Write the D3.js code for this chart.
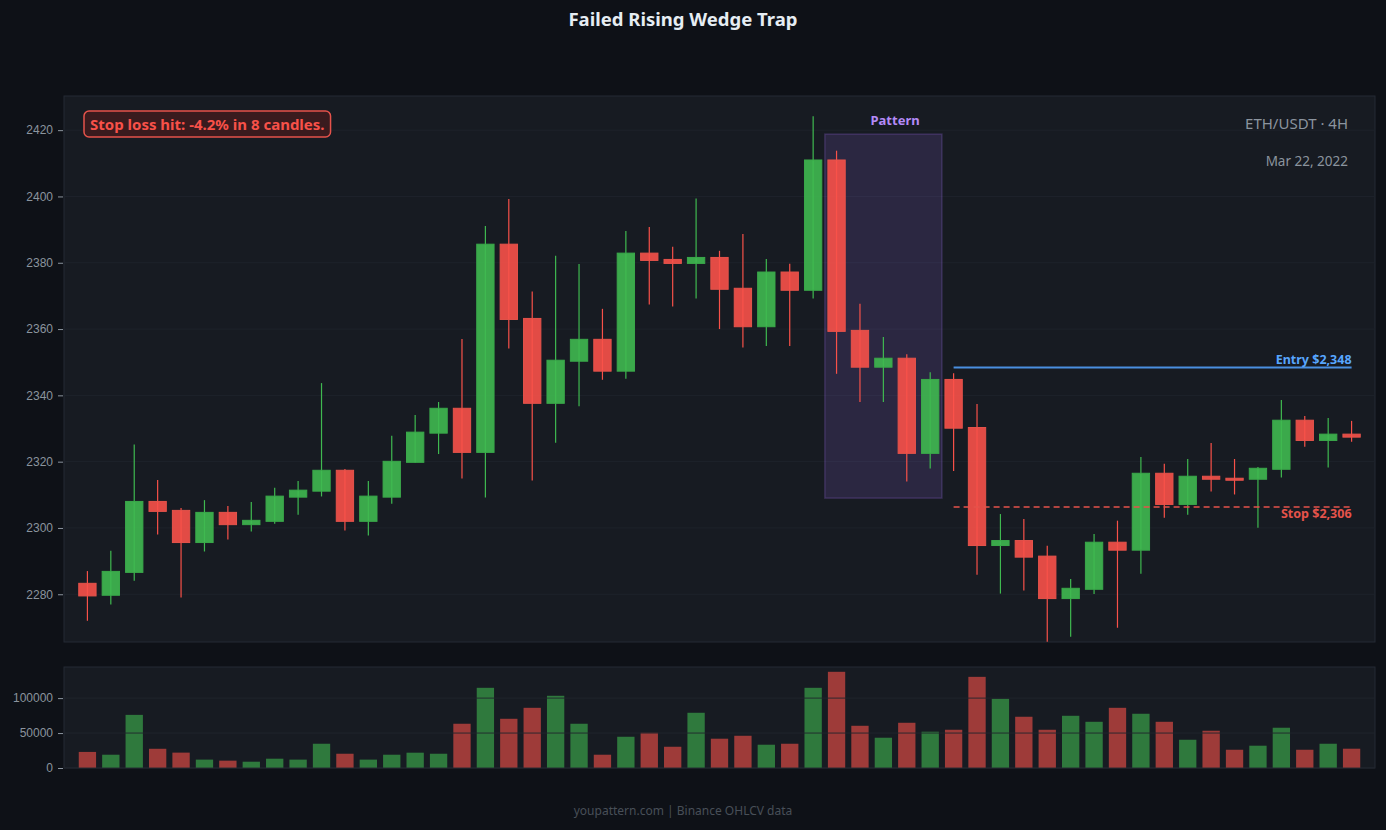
<!DOCTYPE html>
<html>
<head>
<meta charset="utf-8">
<script src="https://cdn.jsdelivr.net/npm/d3@7"></script>
<style>
  body { margin: 0; background: #0e1117; }
  svg { display: block; font-family: "Noto Sans", "Open Sans", sans-serif; }
</style>
</head>
<body>
<div id="chart"></div>
<script>
// ETH/USDT 4H candles
var opens  = [2283.3,2279.7,2286.6,2308.0,2305.3,2295.6,2304.7,2301.0,2302.0,2309.3,2311.1,2317.4,2302.0,2309.3,2319.8,2328.6,2336.1,2322.8,2385.6,2363.2,2337.6,2350.3,2356.9,2347.3,2382.9,2381.0,2379.8,2381.6,2372.3,2360.7,2377.2,2371.7,2411.0,2359.6,2348.5,2351.2,2322.5,2344.8,2330.3,2294.7,2296.2,2291.5,2278.7,2281.5,2295.7,2293.3,2316.5,2307.1,2315.6,2315.0,2314.7,2317.7,2332.5,2326.4,2328.3];
var highs  = [2287.0,2293.1,2325.2,2314.5,2306.0,2308.4,2306.6,2307.8,2312.1,2314.2,2343.7,2317.8,2314.2,2327.8,2334.1,2338.0,2357.0,2391.1,2399.2,2371.3,2382.1,2379.6,2366.1,2389.6,2390.8,2384.8,2399.4,2383.6,2388.7,2381.1,2379.7,2424.2,2413.8,2367.6,2357.6,2352.4,2347.0,2346.7,2337.4,2304.2,2302.7,2294.6,2284.6,2298.2,2302.2,2321.4,2319.4,2320.8,2325.6,2320.8,2318.4,2338.6,2333.8,2333.2,2332.3];
var lows   = [2272.0,2276.9,2284.1,2298.0,2279.0,2292.9,2296.5,2298.9,2301.3,2304.0,2309.5,2299.2,2297.7,2307.3,2319.7,2322.3,2314.9,2309.2,2354.1,2314.3,2325.7,2336.7,2344.7,2345.0,2367.4,2366.8,2369.2,2360.0,2354.4,2354.9,2354.9,2369.2,2346.5,2338.0,2338.0,2314.0,2317.9,2317.2,2285.9,2280.2,2281.1,2265.7,2267.2,2280.1,2269.9,2286.2,2303.1,2304.0,2311.0,2310.1,2300.1,2315.2,2324.5,2318.2,2326.0];
var closes = [2279.5,2286.9,2308.0,2305.0,2295.6,2304.7,2301.0,2302.3,2309.6,2311.4,2317.4,2302.0,2309.6,2320.1,2328.9,2336.1,2322.8,2385.6,2362.9,2337.6,2350.6,2356.9,2347.3,2382.9,2380.7,2379.8,2381.6,2372.0,2360.7,2377.2,2371.7,2411.0,2359.3,2348.5,2351.2,2322.5,2344.8,2330.1,2294.7,2296.2,2291.2,2278.7,2281.8,2295.7,2293.3,2316.5,2307.1,2315.6,2314.7,2314.6,2318.0,2332.5,2326.4,2328.3,2327.4];
var volumes = [23000,19000,76000,27500,22000,12000,10500,9000,13300,12000,34700,20400,12000,19000,21900,20400,63300,114700,70400,86100,103300,63300,19000,44700,50400,30400,79000,41900,46100,33300,34700,114700,137600,60400,43300,64700,51900,54700,130400,99000,73300,54700,74700,66100,86100,77600,66100,40400,53300,26100,31900,57600,26100,34700,27600];

var priceTicks = [2280, 2300, 2320, 2340, 2360, 2380, 2400, 2420];
var volumeTicks = [0, 50000, 100000];

// pattern (candle index range) and trade levels
var patternStart = 32, patternEnd = 36;
var entryIndex = 37;
var entryPrice = 2348.4, stopPrice = 2306.3;

var candles = opens.map(function(o, i) {
  return {i: i, o: o, h: highs[i], l: lows[i], c: closes[i], v: volumes[i]};
});

var W = 1386, H = 830, cx = 683;
var plot = {left: 64, right: 1375, top: 96, bottom: 642};
var vol = {top: 667, bottom: 768};

var up = "#3fb950", down = "#f85149";
var panelFill = "#171b22", panelStroke = "#252b34", gridColor = "#1e232b", axisText = "#8b949e";

var svg = d3.select("#chart").append("svg")
  .attr("width", W).attr("height", H);

svg.append("rect").attr("width", W).attr("height", H).attr("fill", "#0e1117");

var x = d3.scaleBand()
  .domain(d3.range(candles.length))
  .range([plot.left, plot.right])
  .paddingInner(0.26)
  .paddingOuter(0.63);

var y = d3.scaleLinear()
  .domain([2265.6, 2430.3])
  .range([plot.bottom, plot.top]);

var yv = d3.scaleLinear()
  .domain([0, d3.max(volumes) * 1.05])
  .range([vol.bottom, vol.top]);

// panels
svg.append("rect")
  .attr("x", plot.left).attr("y", plot.top)
  .attr("width", plot.right - plot.left).attr("height", plot.bottom - plot.top)
  .attr("fill", panelFill).attr("stroke", panelStroke);
svg.append("rect")
  .attr("x", plot.left).attr("y", vol.top)
  .attr("width", plot.right - plot.left).attr("height", vol.bottom - vol.top)
  .attr("fill", panelFill).attr("stroke", panelStroke);

// price grid
svg.append("g").selectAll("line").data(priceTicks).join("line")
  .attr("x1", plot.left).attr("x2", plot.right)
  .attr("y1", function(d) { return y(d); }).attr("y2", function(d) { return y(d); })
  .attr("stroke", gridColor);

// price axis
var yAxis = svg.append("g")
  .attr("transform", "translate(" + (plot.left - 1) + ",0)")
  .call(d3.axisLeft(y).tickValues(priceTicks).tickFormat(d3.format("d")).tickSize(5).tickPadding(5));
yAxis.select(".domain").remove();
yAxis.selectAll("line").attr("stroke", axisText);
yAxis.selectAll("text").attr("fill", axisText).style("font-size", "12px");

// pattern box
var boxTop = y(d3.max(highs.slice(patternStart, patternEnd + 1)) + 5);
var boxBottom = y(d3.min(lows.slice(patternStart, patternEnd + 1)) - 5);
var boxX0 = x(patternStart) - x.step() * x.paddingInner() / 2;
var boxX1 = x(patternEnd) + x.bandwidth() + x.step() * x.paddingInner() / 2;
svg.append("rect")
  .attr("x", boxX0).attr("y", boxTop)
  .attr("width", boxX1 - boxX0).attr("height", boxBottom - boxTop)
  .attr("fill", "rgba(163,113,247,0.15)")
  .attr("stroke", "rgba(163,113,247,0.22)").attr("stroke-width", 1.5);
svg.append("text")
  .attr("x", (boxX0 + boxX1) / 2 + x.step() / 2).attr("y", boxTop - 9)
  .attr("text-anchor", "middle")
  .attr("fill", "#b48af7").style("font-size", "13px").style("font-weight", "bold")
  .text("Pattern");

// candles
var cg = svg.append("g");
cg.selectAll("line.wick").data(candles).join("line")
  .attr("class", "wick")
  .attr("x1", function(d) { return x(d.i) + x.bandwidth() / 2; })
  .attr("x2", function(d) { return x(d.i) + x.bandwidth() / 2; })
  .attr("y1", function(d) { return y(d.h); })
  .attr("y2", function(d) { return y(d.l); })
  .attr("stroke", function(d) { return d.c >= d.o ? up : down; })
  .attr("stroke-width", 1.2);

cg.selectAll("rect.body").data(candles).join("rect")
  .attr("class", "body")
  .attr("x", function(d) { return x(d.i); })
  .attr("width", x.bandwidth())
  .attr("y", function(d) { return y(Math.max(d.o, d.c)); })
  .attr("height", function(d) { return Math.max(2, Math.abs(y(d.o) - y(d.c))); })
  .attr("fill", function(d) { return d.c >= d.o ? up : down; })
  .attr("fill-opacity", 0.9)
  .attr("stroke", function(d) { return d.c >= d.o ? "#3aa84a" : "#e5534b"; })
  .attr("stroke-width", 1);

// entry & stop lines
var lx0 = x(entryIndex) + x.bandwidth() / 2;
var lx1 = x(candles.length - 1) + x.bandwidth() / 2;
svg.append("line")
  .attr("x1", lx0).attr("x2", lx1)
  .attr("y1", y(entryPrice)).attr("y2", y(entryPrice))
  .attr("stroke", "#4a8fe0").attr("stroke-width", 2);
svg.append("text")
  .attr("x", lx1).attr("y", y(entryPrice) - 4)
  .attr("text-anchor", "end")
  .attr("fill", "#58a6ff").style("font-size", "12.5px").style("font-weight", "bold")
  .text("Entry $" + d3.format(",.0f")(entryPrice));
svg.append("line")
  .attr("x1", lx0).attr("x2", lx1)
  .attr("y1", y(stopPrice)).attr("y2", y(stopPrice))
  .attr("stroke", "#e5534b").attr("stroke-width", 1.6)
  .attr("stroke-dasharray", "6,4");
svg.append("text")
  .attr("x", lx1).attr("y", y(stopPrice) + 11)
  .attr("text-anchor", "end")
  .attr("fill", "#e5534b").style("font-size", "12.5px").style("font-weight", "bold")
  .text("Stop $" + d3.format(",.0f")(stopPrice));

// volume bars
svg.append("g").selectAll("rect").data(candles).join("rect")
  .attr("x", function(d) { return x(d.i); })
  .attr("width", x.bandwidth())
  .attr("y", function(d) { return yv(d.v); })
  .attr("height", function(d) { return yv(0) - yv(d.v); })
  .attr("fill", function(d) { return d.c >= d.o ? up : down; })
  .attr("fill-opacity", 0.6);

// volume grid (on top of bars)
svg.append("g").selectAll("line").data(volumeTicks).join("line")
  .attr("x1", plot.left).attr("x2", plot.right)
  .attr("y1", function(d) { return yv(d); }).attr("y2", function(d) { return yv(d); })
  .attr("stroke", "#21262e").attr("stroke-opacity", 0.9);

var vAxis = svg.append("g")
  .attr("transform", "translate(" + (plot.left - 1) + ",0)")
  .call(d3.axisLeft(yv).tickValues(volumeTicks).tickFormat(d3.format("d")).tickSize(5).tickPadding(5));
vAxis.select(".domain").remove();
vAxis.selectAll("line").attr("stroke", axisText);
vAxis.selectAll("text").attr("fill", axisText).style("font-size", "12px");

// annotation box
var note = svg.append("g");
var noteText = note.append("text")
  .attr("x", 90).attr("y", 129.5)
  .attr("fill", "#f85149").style("font-size", "15px").style("font-weight", "bold")
  .text("Stop loss hit: -4.2% in 8 candles.");
var bb = noteText.node().getBBox();
note.insert("rect", "text")
  .attr("x", bb.x - 6).attr("y", 111)
  .attr("width", bb.width + 12).attr("height", 26)
  .attr("rx", 5)
  .attr("fill", "#3a1b1e").attr("stroke", "#e5534b").attr("stroke-width", 1.5);

// top-right labels
svg.append("text")
  .attr("x", 1348).attr("y", 129)
  .attr("text-anchor", "end").attr("fill", axisText).style("font-size", "15px")
  .text("ETH/USDT · 4H");
svg.append("text")
  .attr("x", 1348).attr("y", 166)
  .attr("text-anchor", "end").attr("fill", axisText).style("font-size", "13.5px")
  .text("Mar 22, 2022");

// title & footer
svg.append("text")
  .attr("x", cx).attr("y", 26)
  .attr("text-anchor", "middle").attr("fill", "#e6edf3")
  .style("font-size", "18.5px").style("font-weight", "bold")
  .text("Failed Rising Wedge Trap");
svg.append("text")
  .attr("x", cx).attr("y", 815)
  .attr("text-anchor", "middle").attr("fill", "#484f58")
  .style("font-size", "12px")
  .text("youpattern.com | Binance OHLCV data");
</script>
</body>
</html>
